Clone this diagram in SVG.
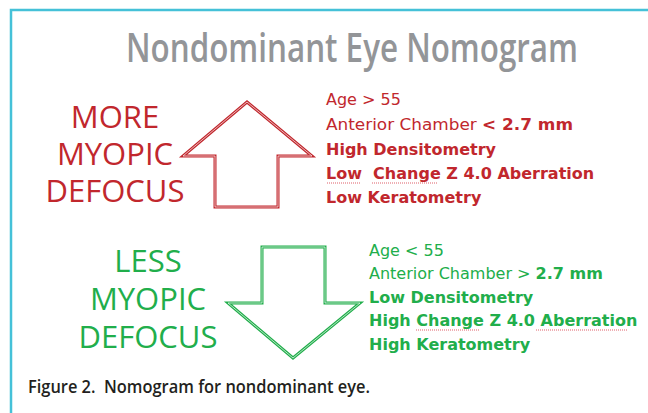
<svg xmlns="http://www.w3.org/2000/svg" width="648" height="413" viewBox="0 0 648 413">
<style>
.title{font-family:"Open Sans","Noto Sans",sans-serif;font-weight:600;font-size:39px;fill:#939598}
.big{font-family:"Open Sans","Noto Sans",sans-serif;font-size:31px;text-anchor:middle}
.lst{font-family:"DejaVu Sans",sans-serif;font-size:16px}
.b{font-weight:bold}
.red{fill:#c1272d}
.grn{fill:#21ae4b}
.cap{font-family:"Open Sans","Noto Sans",sans-serif;font-weight:600;font-size:18px;fill:#231f20}
.arrowO{fill:none;stroke-width:3;stroke-linejoin:miter}
.arrowI{fill:none;stroke:#fff;stroke-width:0.8;stroke-opacity:0.85}
.sq{stroke:#e0606a;stroke-width:1.2;stroke-dasharray:1 1;fill:none}
</style>
<rect width="648" height="413" fill="#fff"/>
<path d="M11 413 V10 H648" fill="none" stroke="#45c1d8" stroke-width="2.5"/>
<g id="title"><text class="title" x="352" y="62" text-anchor="middle" textLength="452" lengthAdjust="spacingAndGlyphs">Nondominant Eye Nomogram</text></g>
<g id="more">
<text class="big red" x="115" y="128">MORE</text>
<text class="big red" x="115" y="165">MYOPIC</text>
<text class="big red" x="115" y="202">DEFOCUS</text>
</g>
<g id="up-arrow">
<path class="arrowO" stroke="#c1272d" d="M247 102 L312 156 H278 V207 H215 V156 H183 Z"/>
<path class="arrowI" d="M247 102 L312 156 H278 V207 H215 V156 H183 Z"/>
</g>
<g id="more-list">
<text class="lst red" x="326" y="105">Age &gt; 55</text>
<text class="lst red" x="326" y="130" textLength="247" lengthAdjust="spacingAndGlyphs">Anterior Chamber <tspan class="b">&lt; 2.7 mm</tspan></text>
<text class="lst red b" x="326" y="155">High Densitometry</text>
<text class="lst red b" x="326" y="179" xml:space="preserve">Low  Change Z 4.0 Aberration</text>
<text class="lst red b" x="326" y="203">Low Keratometry</text>
<path class="sq" d="M327 183 H360 M372 183 H437"/>
</g>
<g id="less">
<text class="big grn" x="148" y="272">LESS</text>
<text class="big grn" x="148" y="310">MYOPIC</text>
<text class="big grn" x="148" y="348">DEFOCUS</text>
</g>
<g id="down-arrow">
<path class="arrowO" stroke="#21ae4b" d="M262 247 H325 V303 H360 L293 358 L228 303 H262 Z"/>
<path class="arrowI" d="M262 247 H325 V303 H360 L293 358 L228 303 H262 Z"/>
</g>
<g id="less-list">
<text class="lst grn" x="369" y="256">Age &lt; 55</text>
<text class="lst grn" x="369" y="279">Anterior Chamber &gt; <tspan class="b">2.7 mm</tspan></text>
<text class="lst grn b" x="369" y="303">Low Densitometry</text>
<text class="lst grn b" x="369" y="326">High Change Z 4.0 Aberration</text>
<text class="lst grn b" x="369" y="350">High Keratometry</text>
<path class="sq" d="M416 330 H480 M536 330 H628"/>
</g>
<g id="caption"><text class="cap" x="28" y="393" xml:space="preserve" textLength="342" lengthAdjust="spacingAndGlyphs">Figure 2.  Nomogram for nondominant eye.</text></g>
</svg>
